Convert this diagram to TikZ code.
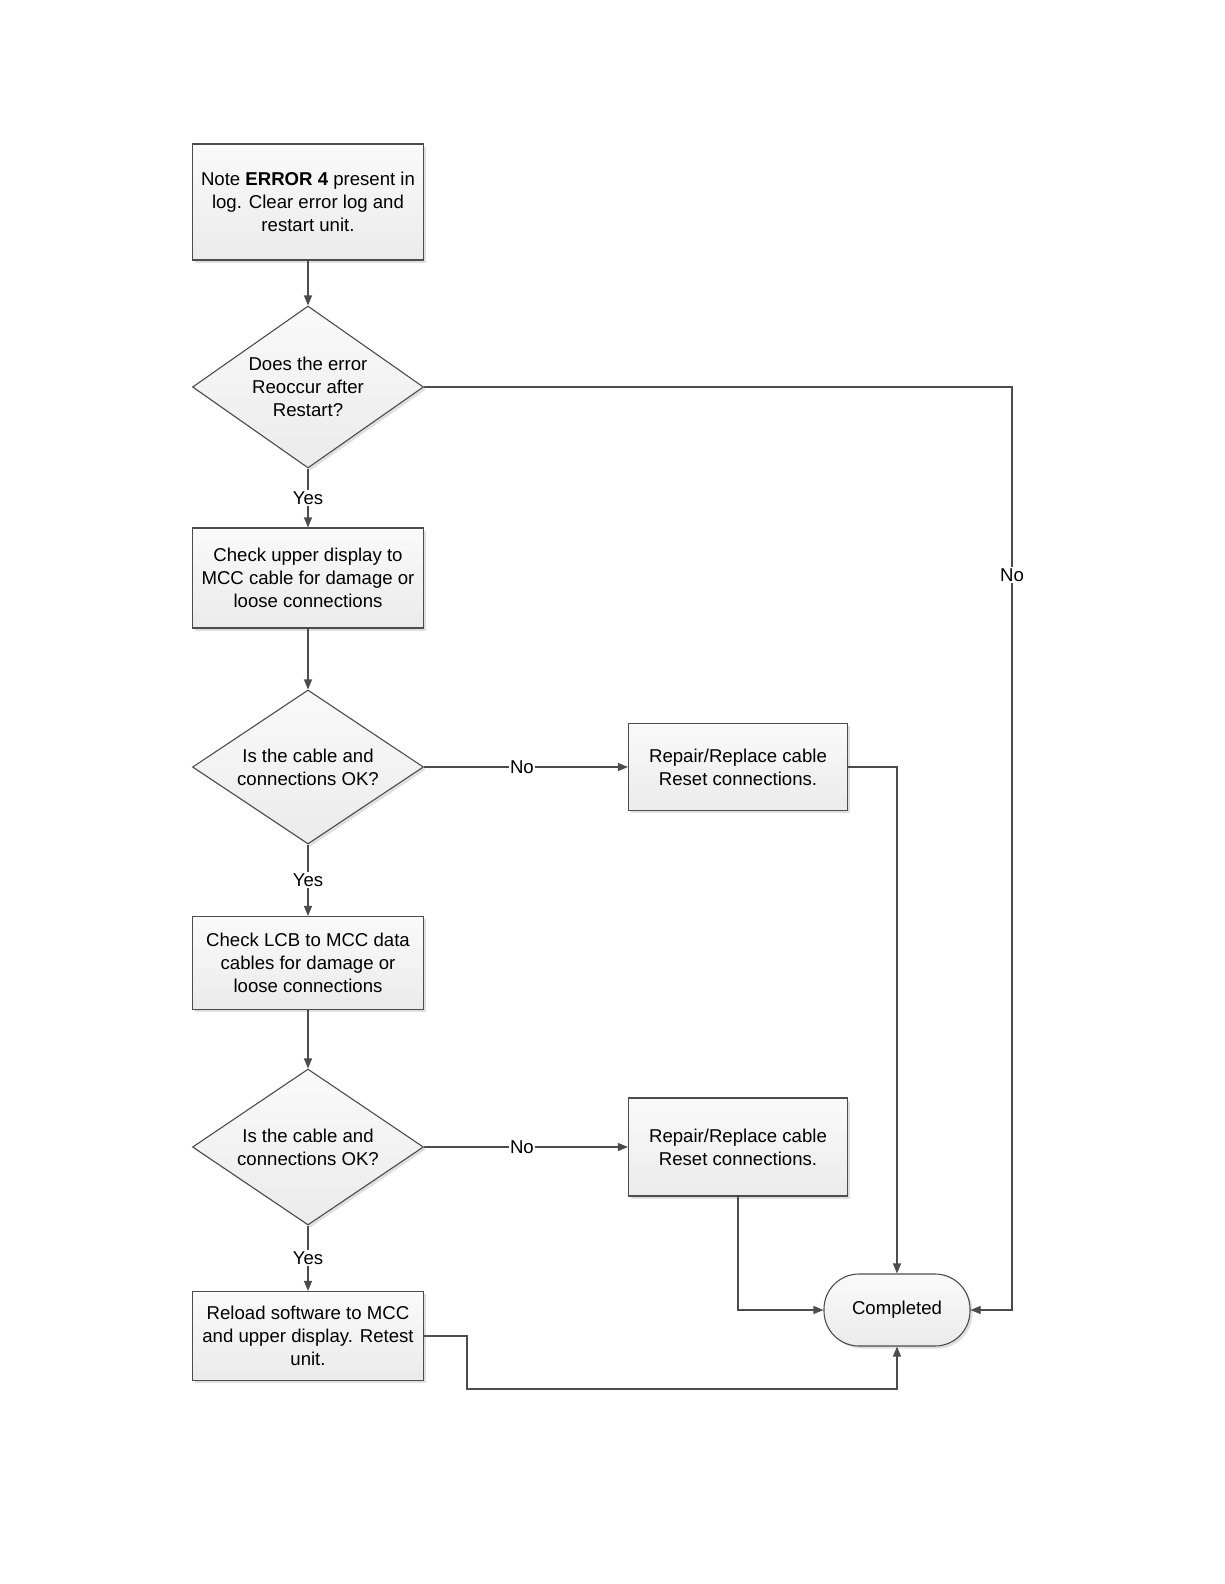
\documentclass[tikz,border=0pt]{standalone}
\usepackage{fontspec}
\setmainfont{Liberation Sans}
\usetikzlibrary{shapes.geometric,arrows.meta,shadows}
\begin{document}
\begin{tikzpicture}[x=1pt,y=-1pt,
  font=\fontsize{18.6}{23.2}\selectfont,
  ln/.style={draw=black!70, line width=1.1pt},
  arr/.style={ln, -{Triangle[length=10pt,width=8pt]}},
  shade/.style={top color=gray!4, bottom color=gray!16, draw=black!70, line width=1.1pt,
     drop shadow={shadow xshift=2.5pt, shadow yshift=-2.5pt, opacity=0.25, fill=gray}},
  procbox/.style={shade, rectangle, minimum width=231pt, align=center, inner sep=2pt},
  decis/.style={shade, diamond, aspect=1.43, minimum width=231pt, inner sep=0pt, align=center},
  lbl/.style={fill=white, inner sep=1.5pt}
]
\useasboundingbox (0,0) rectangle (1224,1584);
\node[procbox, minimum height=116pt] (b1) at (308,202) {Note \textbf{ERROR 4} present in\\log. Clear error log and\\restart unit.};
\node[decis, minimum height=162pt] (d1) at (308,387) {Does the error\\Reoccur after\\Restart?};
\node[procbox, minimum height=100pt] (b2) at (308,578) {Check upper display to\\MCC cable for damage or\\loose connections};
\node[decis, minimum height=154pt] (d2) at (308,767) {Is the cable and\\connections OK?};
\node[procbox, minimum height=93pt] (b3) at (308,963) {Check LCB to MCC data\\cables for damage or\\loose connections};
\node[decis, minimum height=156pt] (d3) at (308,1147) {Is the cable and\\connections OK?};
\node[procbox, minimum height=89pt] (b4) at (308,1336) {Reload software to MCC\\and upper display. Retest\\unit.};
\node[procbox, minimum width=219pt, minimum height=87pt] (r1) at (738,767) {Repair/Replace cable\\Reset connections.};
\node[procbox, minimum width=219pt, minimum height=98pt] (r2) at (738,1147) {Repair/Replace cable\\Reset connections.};
\node[shade, rectangle, rounded corners=35pt, minimum width=146pt, minimum height=72pt] (done) at (897,1310) {Completed};

\coordinate (nA) at (1012,387);
\coordinate (nB) at (1012,1310);
\coordinate (sA) at (467,1336);
\coordinate (sB) at (467,1389);
\coordinate (sC) at (897,1389);

\draw[arr] (b1.south) -- (d1.north);
\draw[arr] (d1.south) -- node[lbl] {Yes} (b2.north);
\draw[arr] (b2.south) -- (d2.north);
\draw[arr] (d2.south) -- node[lbl] {Yes} (b3.north);
\draw[arr] (b3.south) -- (d3.north);
\draw[arr] (d3.south) -- node[lbl] {Yes} (b4.north);
\draw[arr] (d2.east) -- node[lbl, pos=0.48] {No} (r1.west);
\draw[arr] (d3.east) -- node[lbl, pos=0.48] {No} (r2.west);
\draw[arr] (d1.east) -- (nA) -- node[lbl, pos=0.204] {No} (nB) -- (done.east);
\draw[arr] (r1.east) -| (done.north);
\draw[arr] (r2.south) |- (done.west);
\draw[arr] (b4.east) -- (sA) -- (sB) -- (sC) -- (done.south);
\end{tikzpicture}
\end{document}
